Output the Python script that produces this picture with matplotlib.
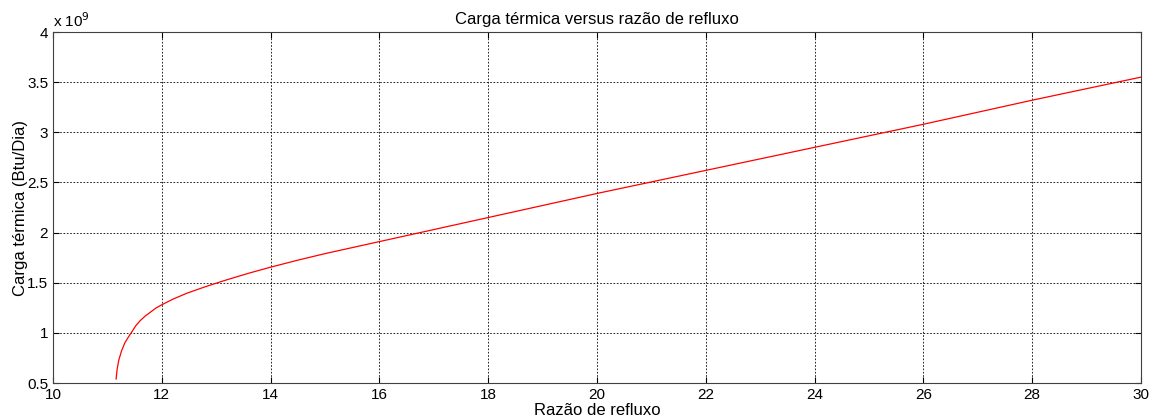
import matplotlib
matplotlib.use('Agg')
import matplotlib.pyplot as plt

plt.rcParams['font.family'] = ['Liberation Sans', 'DejaVu Sans']

# razao de refluxo vs carga termica (x1e9 Btu/Dia)
razao = [11.16, 11.18, 11.21, 11.26, 11.32, 11.40, 11.45, 11.52, 11.6, 11.7, 11.8, 11.9,
         12.0, 12.2, 12.46, 12.8, 13.2, 13.6, 14, 14.5, 15, 16, 17, 18, 20, 22, 24, 26, 28, 30]
carga = [0.54, 0.64, 0.73, 0.82, 0.90, 0.97, 1.01, 1.07, 1.12, 1.17, 1.21, 1.25,
         1.28, 1.335, 1.395, 1.46, 1.53, 1.595, 1.655, 1.725, 1.79, 1.91, 2.03, 2.15,
         2.39, 2.62, 2.85, 3.08, 3.32, 3.55]
carga = [c * 1e9 for c in carga]

fig = plt.figure(figsize=(11.58, 4.19), dpi=100)
ax = fig.add_axes([53/1158, 36/419, 1088/1158, 351/419])
ax.plot(razao, carga, '-', color='red', linewidth=0.9)
ax.set_xlim(10, 30)
ax.set_ylim(0.5e9, 4e9)
ax.set_xticks(range(10, 31, 2))
ax.set_yticks([0.5e9, 1e9, 1.5e9, 2e9, 2.5e9, 3e9, 3.5e9, 4e9])
ax.set_yticklabels(['0.5', '1', '1.5', '2', '2.5', '3', '3.5', '4'])
ax.grid(True, color='black', linestyle=(0, (2, 2)), linewidth=0.6)
ax.tick_params(direction='in', labelsize=11, length=4, top=True, right=True)
for s in ax.spines.values():
    s.set_linewidth(0.8)
    s.set_color('#404040')
ax.text(0.0, 1.005, r'x 10$^{9}$', transform=ax.transAxes, fontsize=11, va='bottom')
ax.set_title('Carga térmica versus razão de refluxo', fontsize=12, pad=6)
ax.set_xlabel('Razão de refluxo', fontsize=12, labelpad=1)
ax.set_ylabel('Carga térmica (Btu/Dia)', fontsize=12, labelpad=-1)
fig.savefig('out.png', dpi=100)
